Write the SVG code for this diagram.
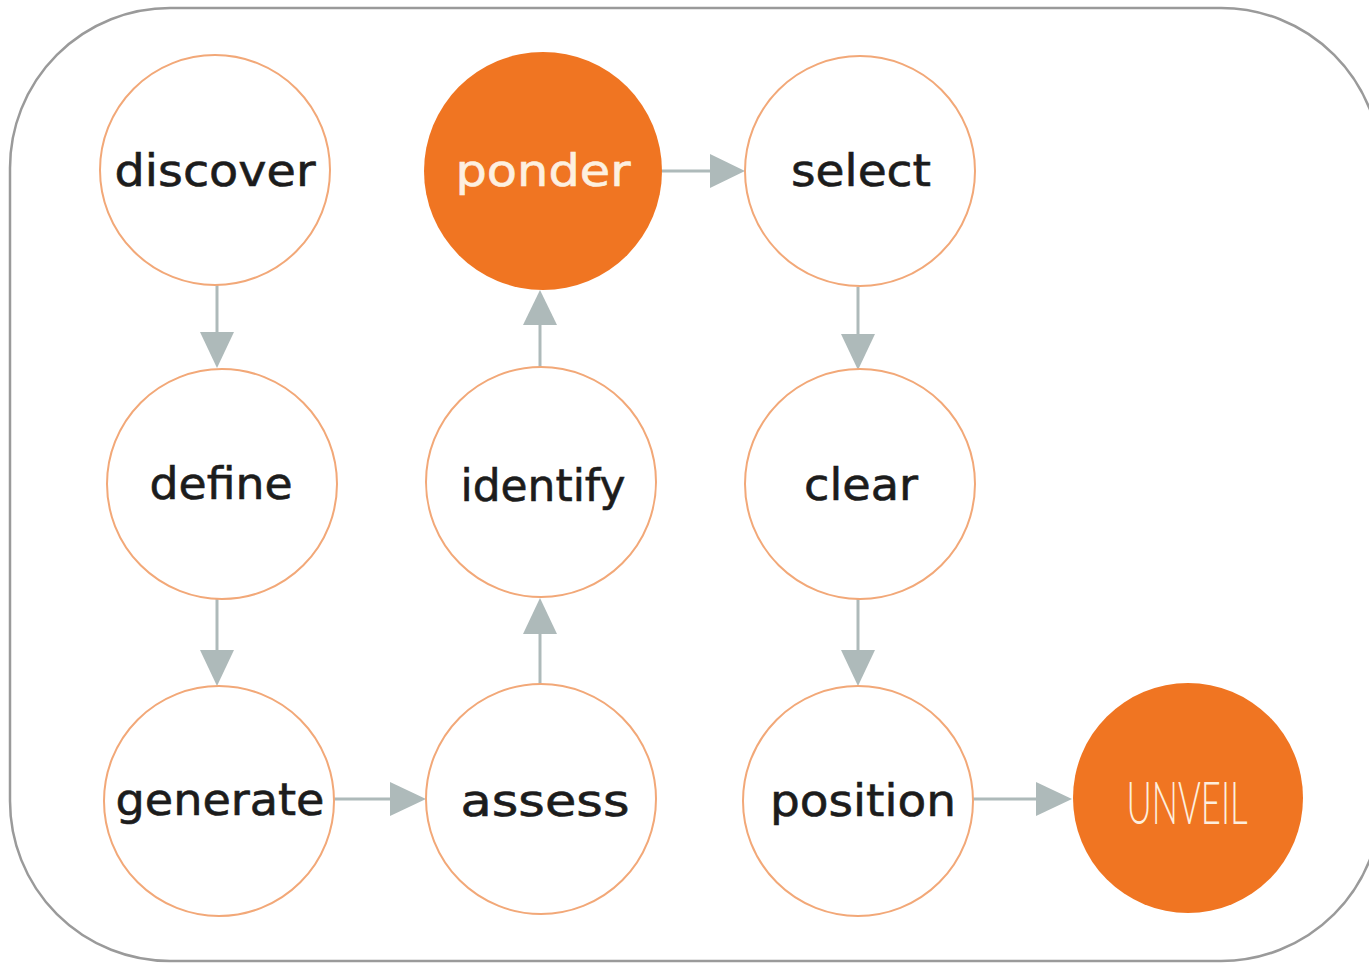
<svg xmlns="http://www.w3.org/2000/svg" width="1369" height="963" viewBox="0 0 1369 963">
  <style>
    .ring { fill: #ffffff; stroke: #f2a878; stroke-width: 2; }
    .solid { fill: #f07522; stroke: none; }
    .lbl { font-family: "DejaVu Sans", "Liberation Sans", sans-serif; font-size: 44px; fill: #1c1c1c; stroke: #1c1c1c; stroke-width: 0.6; text-anchor: middle; }
    .lbl-light { fill: #fdf0e0; stroke: #fdf0e0; }
    .big { font-family: "Lato", "Open Sans", sans-serif; font-size: 60px; font-weight: 300; fill: #fdeedd; text-anchor: middle; }
    .link { stroke: #aebaba; stroke-width: 3; fill: none; }
    .head { fill: #aebaba; }
  </style>

  <rect width="1369" height="963" fill="#ffffff"/>
  <!-- outer frame -->
  <rect x="10" y="8" width="1371" height="953" rx="160" ry="160" fill="none" stroke="#9a9a9a" stroke-width="2.5"/>

  <!-- connectors -->
  <g id="connectors">
    <!-- discover -> define -->
    <line class="link" x1="217" y1="285" x2="217" y2="334"/>
    <polygon class="head" points="200,332 234,332 217,368"/>
    <!-- define -> generate -->
    <line class="link" x1="217" y1="598" x2="217" y2="652"/>
    <polygon class="head" points="200,650 234,650 217,686"/>
    <!-- generate -> assess -->
    <line class="link" x1="334" y1="799" x2="392" y2="799"/>
    <polygon class="head" points="390,782 390,816 426,799"/>
    <!-- assess -> identify -->
    <line class="link" x1="540" y1="684" x2="540" y2="632"/>
    <polygon class="head" points="523,634 557,634 540,598"/>
    <!-- identify -> ponder -->
    <line class="link" x1="540" y1="367" x2="540" y2="323"/>
    <polygon class="head" points="523,325 557,325 540,290"/>
    <!-- ponder -> select -->
    <line class="link" x1="662" y1="171" x2="712" y2="171"/>
    <polygon class="head" points="710,154 710,188 745,171"/>
    <!-- select -> clear -->
    <line class="link" x1="858" y1="287" x2="858" y2="336"/>
    <polygon class="head" points="841,334 875,334 858,370"/>
    <!-- clear -> position -->
    <line class="link" x1="858" y1="598" x2="858" y2="652"/>
    <polygon class="head" points="841,650 875,650 858,686"/>
    <!-- position -> UNVEIL -->
    <line class="link" x1="973" y1="799" x2="1038" y2="799"/>
    <polygon class="head" points="1036,782 1036,816 1072,799"/>
  </g>

  <g id="discover">
    <circle class="ring" cx="215" cy="170" r="115"/>
    <text class="lbl" x="215" y="186" textLength="201" lengthAdjust="spacingAndGlyphs">discover</text>
  </g>
  <g id="ponder">
    <circle class="solid" cx="543" cy="171" r="119"/>
    <text class="lbl lbl-light" x="543" y="186" textLength="175" lengthAdjust="spacingAndGlyphs">ponder</text>
  </g>
  <g id="select">
    <circle class="ring" cx="860" cy="171" r="115"/>
    <text class="lbl" x="861" y="186" textLength="140" lengthAdjust="spacingAndGlyphs">select</text>
  </g>
  <g id="define">
    <circle class="ring" cx="222" cy="484" r="115"/>
    <text class="lbl" x="221" y="499" textLength="143" lengthAdjust="spacingAndGlyphs">define</text>
  </g>
  <g id="identify">
    <circle class="ring" cx="541" cy="482" r="115"/>
    <text class="lbl" x="543" y="501" textLength="165" lengthAdjust="spacingAndGlyphs">identify</text>
  </g>
  <g id="clear">
    <circle class="ring" cx="860" cy="484" r="115"/>
    <text class="lbl" x="861" y="500" textLength="114" lengthAdjust="spacingAndGlyphs">clear</text>
  </g>
  <g id="generate">
    <circle class="ring" cx="219" cy="801" r="115"/>
    <text class="lbl" x="220" y="815" textLength="209" lengthAdjust="spacingAndGlyphs">generate</text>
  </g>
  <g id="assess">
    <circle class="ring" cx="541" cy="799" r="115"/>
    <text class="lbl" x="545" y="816" textLength="169" lengthAdjust="spacingAndGlyphs">assess</text>
  </g>
  <g id="position">
    <circle class="ring" cx="858" cy="801" r="115"/>
    <text class="lbl" x="863" y="816" textLength="186" lengthAdjust="spacingAndGlyphs">position</text>
  </g>
  <g id="unveil">
    <circle class="solid" cx="1188" cy="798" r="115"/>
    <text class="big" x="1187" y="824" textLength="121" lengthAdjust="spacingAndGlyphs">UNVEIL</text>
  </g>
</svg>
